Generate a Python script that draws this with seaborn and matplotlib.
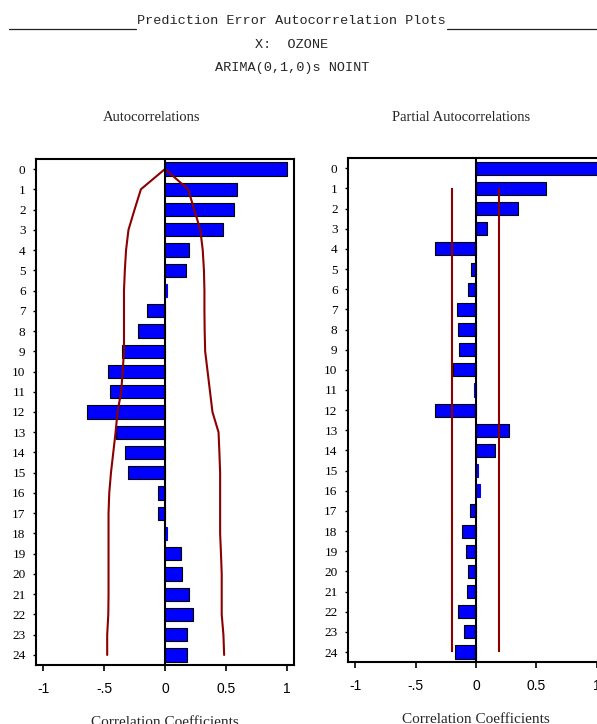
import numpy as np
import pandas as pd
import matplotlib
matplotlib.use("Agg")
import matplotlib.pyplot as plt
from matplotlib.lines import Line2D
import seaborn as sns

# ---------------- data ----------------
lags = list(range(25))
acf = [1.00, 0.59, 0.57, 0.48, 0.20, 0.17, 0.02, -0.15, -0.22, -0.35, -0.47, -0.45,
       -0.64, -0.40, -0.33, -0.30, -0.06, -0.06, 0.02, 0.13, 0.14, 0.20, 0.23, 0.18, 0.18]
acf_upper = [0.0, 0.19, 0.24, 0.29, 0.31, 0.32, 0.324, 0.324, 0.326, 0.33, 0.35, 0.37,
             0.39, 0.44, 0.447, 0.453, 0.453, 0.453, 0.453, 0.46, 0.466, 0.466, 0.466, 0.48, 0.486]
acf_lower = [0.0, -0.198, -0.25, -0.30, -0.32, -0.33, -0.337, -0.337, -0.337, -0.337, -0.348, -0.36,
             -0.39, -0.406, -0.425, -0.444, -0.458, -0.464, -0.464, -0.464, -0.464, -0.464, -0.466, -0.475, -0.475]
pacf = [1.00, 0.58, 0.35, 0.094, -0.34, -0.04, -0.064, -0.16, -0.15, -0.14, -0.19, -0.02,
        -0.34, 0.275, 0.16, 0.02, 0.03, -0.05, -0.12, -0.086, -0.064, -0.075, -0.15, -0.097, -0.175]
pacf_band_lags = [1, 24]
pacf_band_lower = -0.20
pacf_band_upper = 0.19

xtick_vals = [-1, -0.5, 0, 0.5, 1]
xtick_labels = ["-1", "-.5", "0", "0.5", "1"]

header = "Prediction Error Autocorrelation Plots"
sub1 = "X:  OZONE"
sub2 = "ARIMA(0,1,0)s NOINT"
titles = ["Autocorrelations", "Partial Autocorrelations"]
xlabel = "Correlation Coefficients"

# ---------------- style ----------------
sns.set_theme(style="white")
plt.rcParams["font.family"] = ["Liberation Serif", "DejaVu Serif"]

BLUE = "#0000FF"
DARKRED = "#8B0000"

W, H = 597, 724
fig = plt.figure(figsize=(W / 100, H / 100), dpi=100)
fig.patch.set_facecolor("white")

def fx(px):
    return px / W

def fy(py):
    return 1 - py / H

ax1 = fig.add_axes([fx(36), fy(665.1), fx(294 - 36), (665.1 - 158.9) / H])
ax2 = fig.add_axes([fx(348), fy(662.1), fx(604 - 348), (662.1 - 158.2) / H])

df_acf = pd.DataFrame({"lag": lags, "value": acf, "upper": acf_upper, "lower": acf_lower})
df_pacf = pd.DataFrame({"lag": lags, "value": pacf})


def style_axes(ax, title_x):
    ax.set_xlim(-1.06, 1.06)
    ax.set_ylim(24.5, -0.5)
    ax.set_yticks(lags)
    ax.set_yticklabels([str(l) for l in lags], fontsize=9.5,
                       family=["Liberation Serif"])
    ax.set_xticks(xtick_vals)
    ax.set_xticklabels(xtick_labels, fontsize=10, family=["Liberation Sans"])
    ax.tick_params(axis="y", direction="out", length=2.5, width=1.0, pad=5,
                   left=True, colors="black")
    ax.tick_params(axis="x", direction="out", length=4.5, width=1.2, pad=8,
                   bottom=True, colors="black")
    for sp in ax.spines.values():
        sp.set_visible(True)
        sp.set_color("black")
        sp.set_linewidth(1.5)
    ax.set_ylabel("")
    ax.set_xlabel(xlabel, fontsize=11, family=["Liberation Serif"], labelpad=14)
    ax.axvline(0, color="black", lw=1.5, zorder=5)
    ax.grid(False)


def fix_small_bars(ax):
    for p in ax.patches:
        if abs(p.get_width()) < 0.035:
            p.set_edgecolor(BLUE)


# Left: ACF
sns.barplot(data=df_acf, x="value", y="lag", orient="h", native_scale=True,
            width=0.65, color=BLUE, saturation=1, edgecolor="black",
            linewidth=0.8, ax=ax1)
fix_small_bars(ax1)
sns.lineplot(data=df_acf, x="upper", y="lag", orient="y", sort=False,
             estimator=None, color=DARKRED, lw=1.5, ax=ax1)
sns.lineplot(data=df_acf, x="lower", y="lag", orient="y", sort=False,
             estimator=None, color=DARKRED, lw=1.5, ax=ax1)
style_axes(ax1, 151.7)

# Right: PACF
sns.barplot(data=df_pacf, x="value", y="lag", orient="h", native_scale=True,
            width=0.65, color=BLUE, saturation=1, edgecolor="black",
            linewidth=0.8, ax=ax2)
fix_small_bars(ax2)
ax2.vlines([pacf_band_lower, pacf_band_upper], pacf_band_lags[0], pacf_band_lags[1],
           color=DARKRED, lw=1.5, zorder=4)
style_axes(ax2, 461)

# Titles
fig.text(fx(151.7), fy(117.7), titles[0], ha="center", va="center", fontsize=10.5,
         family=["Liberation Serif"])
fig.text(fx(461), fy(117.7), titles[1], ha="center", va="center", fontsize=10.5,
         family=["Liberation Serif"])

# Header
mono = ["Liberation Mono", "DejaVu Sans Mono"]
fig.text(fx(291.5), fy(21), header, ha="center", va="center", fontsize=9.7, family=mono)
fig.text(fx(292), fy(45), sub1, ha="center", va="center", fontsize=9.7, family=mono)
fig.text(fx(292.5), fy(68), sub2, ha="center", va="center", fontsize=9.7, family=mono)
fig.add_artist(Line2D([fx(9), fx(136)], [fy(29), fy(29)], color="#222222", lw=0.9))
fig.add_artist(Line2D([fx(447), fx(597)], [fy(29), fy(29)], color="#222222", lw=0.9))

fig.savefig("out.png", dpi=100, facecolor="white")
